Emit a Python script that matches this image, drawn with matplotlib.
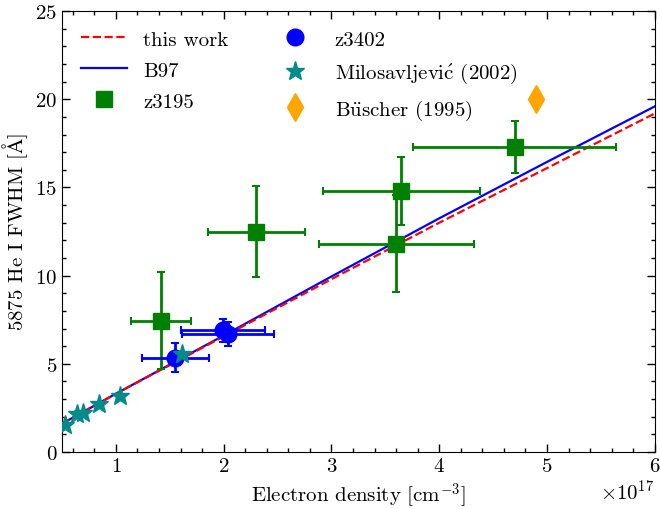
import matplotlib

matplotlib.use("Agg")

import matplotlib.pyplot as plt

# fitted relations, density in 1e17 cm^-3
fit_x = [0.5, 1.0, 2.0, 3.0, 4.0, 5.0, 6.0]
this_work_y = [1.6, 3.3, 6.55, 9.8, 13.0, 16.1, 19.2]
b97_y = [1.6, 3.3, 6.6, 9.95, 13.25, 16.45, 19.6]

# z3195
z3195_x = [1.42, 2.30, 3.60, 3.65, 4.70]
z3195_xerr = [0.28, 0.45, 0.72, 0.73, 0.94]
z3195_y = [7.45, 12.5, 11.8, 14.8, 17.3]
z3195_yerr = [2.75, 2.6, 2.75, 1.95, 1.5]

# z3402
z3402_x = [1.55, 1.99, 2.04]
z3402_xerr = [0.31, 0.39, 0.43]
z3402_y = [5.35, 6.89, 6.69]
z3402_yerr = [0.83, 0.65, 0.68]

# Milosavljevic (2002)
milo_x = [0.53, 0.64, 0.69, 0.84, 1.04, 1.61]
milo_y = [1.5, 2.15, 2.2, 2.7, 3.15, 5.55]

# Buscher (1995)
busch_x = [4.9]
busch_y = [20.0]

scale = 1e17


def sc(values):
    return [v * scale for v in values]


plt.rcParams["font.family"] = "serif"
plt.rcParams["font.serif"] = ["cmr10"]
plt.rcParams["mathtext.fontset"] = "cm"
plt.rcParams["axes.formatter.use_mathtext"] = True
plt.rcParams["font.size"] = 15

fig = plt.figure(figsize=(6.6, 5.1), dpi=100)
ax = fig.add_axes([0.094, 0.112, 0.898, 0.864])

ax.plot(sc(fit_x), this_work_y, color="red", ls="--", lw=1.6, label="this work", zorder=3)
ax.plot(sc(fit_x), b97_y, color="blue", ls="-", lw=1.6, label="B97", zorder=2)

ax.errorbar(sc(z3195_x), z3195_y, xerr=sc(z3195_xerr), yerr=z3195_yerr,
            fmt="none", ecolor="green", elinewidth=2, capsize=3, capthick=1.5, zorder=4)
ax.plot(sc(z3195_x), z3195_y, "s", color="green", ms=11, ls="none",
        label="z3195", zorder=5)

ax.errorbar(sc(z3402_x), z3402_y, xerr=sc(z3402_xerr), yerr=z3402_yerr,
            fmt="none", ecolor="blue", elinewidth=2, capsize=3, capthick=1.5, zorder=4)
ax.plot(sc(z3402_x), z3402_y, "o", color="blue", ms=12, ls="none",
        label="z3402", zorder=5)

ax.plot(sc(milo_x), milo_y, "*", color="darkcyan", ms=14, ls="none",
        label=r"Milosavljevi$\acute{\mathrm{c}}$ (2002)", zorder=6)
ax.plot(sc(busch_x), busch_y, "d", color="orange", ms=14, ls="none",
        label=r"B$\ddot{\mathrm{u}}$scher (1995)", zorder=6)

ax.set_xlim(0.5 * scale, 6 * scale)
ax.set_ylim(0, 25)
ax.set_xlabel(r"Electron density [cm$^{-3}$]")
ax.set_ylabel(r"5875 He I FWHM [$\mathrm{\AA}$]")

ax.minorticks_on()
ax.tick_params(which="both", direction="in", top=True, right=True)
ax.tick_params(which="major", length=6, width=1)
ax.tick_params(which="minor", length=3, width=1)

ax.legend(ncol=2, loc="upper left", frameon=False, columnspacing=2.1,
          handlelength=2.2, labelspacing=0.6)

fig.savefig("out.png", dpi=100)
plt.close(fig)
